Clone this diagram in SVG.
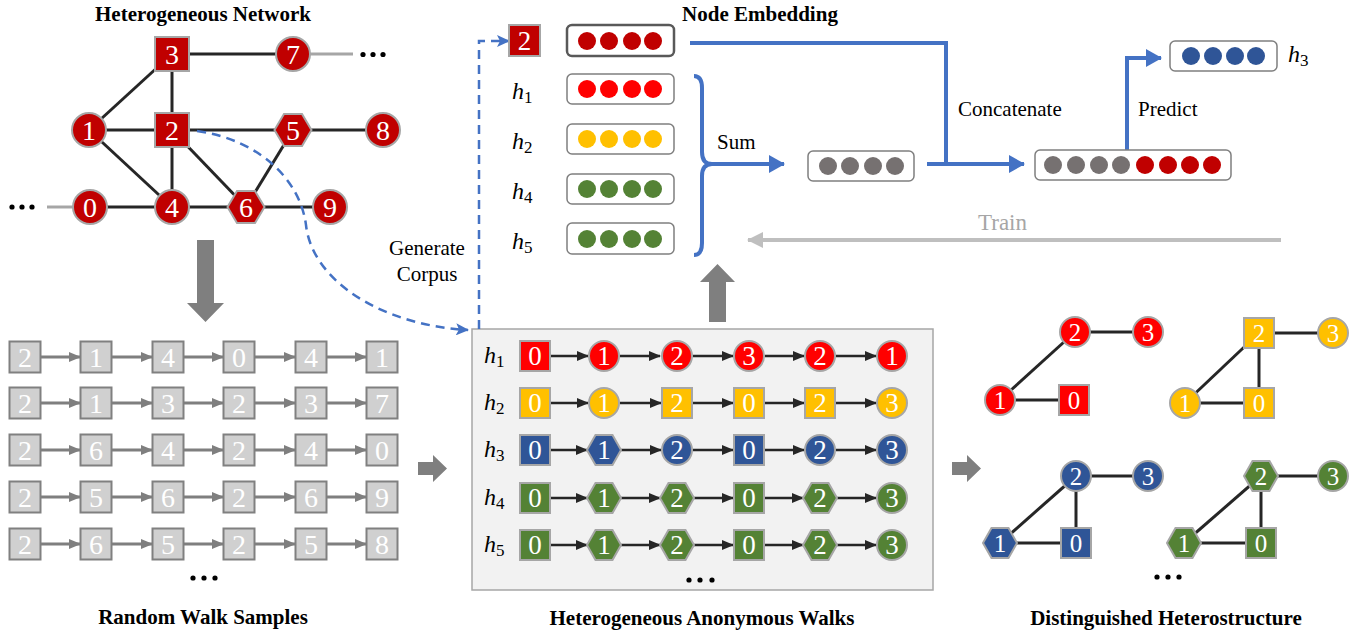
<svg xmlns="http://www.w3.org/2000/svg" xmlns:xlink="http://www.w3.org/1999/xlink" width="1368" height="635" viewBox="0 0 1368 635">
<style>
text{font-family:"Liberation Serif","Times New Roman","DejaVu Serif",serif}
.title{font-size:21px;font-weight:bold;text-anchor:middle;fill:#000}
.lab{font-size:21px;fill:#000}
.dg{fill:#fff;text-anchor:middle;dominant-baseline:central}
.d28{font-size:28px}.d27{font-size:27px}.d25{font-size:25px}
.h{font-size:24px;font-style:italic;fill:#000}
.sub{font-size:17px;font-style:normal}
.edge{stroke:#262626;stroke-width:3}
.nd{stroke:#A6A6A6;stroke-width:2}
.dr{fill:#C00000}.r{fill:#FF0000}.y{fill:#FFC000}.b{fill:#2F5597}.g{fill:#548235}.gy{fill:#767171}
.rw{fill:#D0D0D0;stroke:#808080;stroke-width:2}
.rwa{stroke:#7F7F7F;stroke-width:3;marker-end:url(#agray)}
.wa{stroke:#262626;stroke-width:2.5;marker-end:url(#ablack)}
.blue{stroke:#4472C4;stroke-width:4;fill:none}
.vec{fill:#fff;stroke:#7F7F7F;stroke-width:1.5}
.dots circle{fill:#000}
.big{fill:#7F7F7F}
</style>
<defs>
<rect id="sqL" x="-17" y="-17" width="34" height="34"/>
<circle id="ciL" r="17"/>
<polygon id="hxL" points="-18.5,0 -9,-16 9,-16 18.5,0 9,16 -9,16"/>
<rect id="sq" x="-15" y="-15" width="30" height="30"/>
<circle id="ci" r="15"/>
<polygon id="hx" points="-17,0 -8.5,-15 8.5,-15 17,0 8.5,15 -8.5,15"/>
<rect id="rb" x="-15.5" y="-15.5" width="31" height="31"/>
<marker id="ablack" markerUnits="userSpaceOnUse" markerWidth="12" markerHeight="10" refX="11" refY="5" orient="auto"><path d="M0,0 L12,5 L0,10 Z" fill="#262626"/></marker>
<marker id="agray" markerUnits="userSpaceOnUse" markerWidth="12" markerHeight="10" refX="11" refY="5" orient="auto"><path d="M0,0 L12,5 L0,10 Z" fill="#7F7F7F"/></marker>
<marker id="ablue" markerUnits="userSpaceOnUse" markerWidth="16" markerHeight="18" refX="15" refY="9" orient="auto"><path d="M0,0 L16,9 L0,18 Z" fill="#4472C4"/></marker>
<marker id="adash" markerUnits="userSpaceOnUse" markerWidth="13" markerHeight="12" refX="12" refY="6" orient="auto"><path d="M0,0 L13,6 L0,12 L3,6 Z" fill="#4472C4"/></marker>
<marker id="atrain" markerUnits="userSpaceOnUse" markerWidth="16" markerHeight="16" refX="15" refY="8" orient="auto"><path d="M0,0 L16,8 L0,16 Z" fill="#BFBFBF"/></marker>
</defs>

<rect id="panel" x="472" y="329" width="461" height="261" fill="#F2F2F2" stroke="#A6A6A6" stroke-width="1.5"/>

<g id="connectors" fill="none">
  <!-- network edges -->
  <line class="edge" x1="172" y1="54" x2="293" y2="54"/>
  <line class="edge" x1="172" y1="54" x2="89" y2="130"/>
  <line class="edge" x1="172" y1="54" x2="172" y2="130"/>
  <line class="edge" x1="89" y1="130" x2="172" y2="130"/>
  <line class="edge" x1="172" y1="130" x2="293" y2="130"/>
  <line class="edge" x1="293" y1="130" x2="383" y2="130"/>
  <line class="edge" x1="89" y1="130" x2="172" y2="207"/>
  <line class="edge" x1="172" y1="130" x2="172" y2="207"/>
  <line class="edge" x1="172" y1="130" x2="246" y2="207"/>
  <line class="edge" x1="293" y1="130" x2="246" y2="207"/>
  <line class="edge" x1="90" y1="207" x2="172" y2="207"/>
  <line class="edge" x1="172" y1="207" x2="246" y2="207"/>
  <line class="edge" x1="246" y1="207" x2="330" y2="207"/>
  <line x1="310" y1="54" x2="353" y2="54" stroke="#A6A6A6" stroke-width="3"/>
  <line x1="47" y1="207" x2="73" y2="207" stroke="#A6A6A6" stroke-width="3"/>
  <!-- generate corpus dashed -->
  <path d="M197 131 C260 140 300 180 306 225 C312 280 380 325 468 330" stroke="#4472C4" stroke-width="2.5" stroke-dasharray="9 6" marker-end="url(#adash)"/>
  <path d="M479 329 V41 H509" stroke="#4472C4" stroke-width="2.5" stroke-dasharray="9 6" marker-end="url(#adash)"/>
  <!-- big gray arrows -->
  <polygon class="big" points="197,240 214,240 214,303 224,303 205.5,322 187,303 197,303"/>
  <polygon class="big" points="709,322 726,322 726,282 735,282 717.5,264 700,282 709,282"/>
  <polygon class="big" points="418,462 433,462 433,455 447,468.5 433,482 433,475 418,475"/>
  <polygon class="big" points="952,462 967,462 967,455 981,468.5 967,482 967,475 952,475"/>
  <!-- embedding flow -->
  <path class="blue" d="M694 76 Q702 76 702 88 L702 152 Q702 164 712 164 Q702 164 702 176 L702 243 Q702 255 694 255"/>
  <line class="blue" x1="710" y1="164" x2="784" y2="164" marker-end="url(#ablue)"/>
  <path class="blue" d="M690 43 H946 V164"/>
  <line class="blue" x1="927" y1="164" x2="1024" y2="164" marker-end="url(#ablue)"/>
  <path class="blue" d="M1127 150 V58 H1161" marker-end="url(#ablue)"/>
  <line x1="1281" y1="240" x2="748" y2="240" stroke="#BFBFBF" stroke-width="4" marker-end="url(#atrain)"/>
  <!-- random walk arrows -->
  <g id="rw-arrows">
    <line class="rwa" x1="41" y1="357" x2="80" y2="357"/><line class="rwa" x1="112" y1="357" x2="152" y2="357"/><line class="rwa" x1="184" y1="357" x2="223" y2="357"/><line class="rwa" x1="255" y1="357" x2="295" y2="357"/><line class="rwa" x1="327" y1="357" x2="366" y2="357"/>
    <line class="rwa" x1="41" y1="403" x2="80" y2="403"/><line class="rwa" x1="112" y1="403" x2="152" y2="403"/><line class="rwa" x1="184" y1="403" x2="223" y2="403"/><line class="rwa" x1="255" y1="403" x2="295" y2="403"/><line class="rwa" x1="327" y1="403" x2="366" y2="403"/>
    <line class="rwa" x1="41" y1="450" x2="80" y2="450"/><line class="rwa" x1="112" y1="450" x2="152" y2="450"/><line class="rwa" x1="184" y1="450" x2="223" y2="450"/><line class="rwa" x1="255" y1="450" x2="295" y2="450"/><line class="rwa" x1="327" y1="450" x2="366" y2="450"/>
    <line class="rwa" x1="41" y1="497" x2="80" y2="497"/><line class="rwa" x1="112" y1="497" x2="152" y2="497"/><line class="rwa" x1="184" y1="497" x2="223" y2="497"/><line class="rwa" x1="255" y1="497" x2="295" y2="497"/><line class="rwa" x1="327" y1="497" x2="366" y2="497"/>
    <line class="rwa" x1="41" y1="544" x2="80" y2="544"/><line class="rwa" x1="112" y1="544" x2="152" y2="544"/><line class="rwa" x1="184" y1="544" x2="223" y2="544"/><line class="rwa" x1="255" y1="544" x2="295" y2="544"/><line class="rwa" x1="327" y1="544" x2="366" y2="544"/>
  </g>
  <!-- anonymous walk arrows -->
  <g id="aw-arrows">
    <line class="wa" x1="551" y1="356" x2="588" y2="356"/><line class="wa" x1="620" y1="356" x2="660" y2="356"/><line class="wa" x1="693" y1="356" x2="733" y2="356"/><line class="wa" x1="765" y1="356" x2="804" y2="356"/><line class="wa" x1="836" y1="356" x2="876" y2="356"/>
    <line class="wa" x1="551" y1="403" x2="588" y2="403"/><line class="wa" x1="620" y1="403" x2="661" y2="403"/><line class="wa" x1="693" y1="403" x2="733" y2="403"/><line class="wa" x1="765" y1="403" x2="804" y2="403"/><line class="wa" x1="836" y1="403" x2="876" y2="403"/>
    <line class="wa" x1="551" y1="450" x2="587" y2="450"/><line class="wa" x1="621" y1="450" x2="661" y2="450"/><line class="wa" x1="693" y1="450" x2="733" y2="450"/><line class="wa" x1="765" y1="450" x2="804" y2="450"/><line class="wa" x1="836" y1="450" x2="876" y2="450"/>
    <line class="wa" x1="551" y1="498" x2="587" y2="498"/><line class="wa" x1="621" y1="498" x2="660" y2="498"/><line class="wa" x1="694" y1="498" x2="733" y2="498"/><line class="wa" x1="765" y1="498" x2="803" y2="498"/><line class="wa" x1="837" y1="498" x2="876" y2="498"/>
    <line class="wa" x1="551" y1="545" x2="587" y2="545"/><line class="wa" x1="621" y1="545" x2="660" y2="545"/><line class="wa" x1="694" y1="545" x2="733" y2="545"/><line class="wa" x1="765" y1="545" x2="803" y2="545"/><line class="wa" x1="837" y1="545" x2="876" y2="545"/>
  </g>
  <!-- right structure edges -->
  <line class="edge" x1="1075" y1="332" x2="1148" y2="332"/>
  <line class="edge" x1="1075" y1="332" x2="1000" y2="400"/>
  <line class="edge" x1="1000" y1="400" x2="1074" y2="400"/>
  <line class="edge" x1="1259" y1="333" x2="1333" y2="333"/>
  <line class="edge" x1="1259" y1="333" x2="1185" y2="403"/>
  <line class="edge" x1="1259" y1="333" x2="1259" y2="403"/>
  <line class="edge" x1="1185" y1="403" x2="1259" y2="403"/>
  <line class="edge" x1="1076" y1="476" x2="1148" y2="476"/>
  <line class="edge" x1="1076" y1="476" x2="1000" y2="543"/>
  <line class="edge" x1="1076" y1="476" x2="1076" y2="543"/>
  <line class="edge" x1="1000" y1="543" x2="1076" y2="543"/>
  <line class="edge" x1="1261" y1="476" x2="1333" y2="476"/>
  <line class="edge" x1="1261" y1="476" x2="1184" y2="543"/>
  <line class="edge" x1="1261" y1="476" x2="1261" y2="543"/>
  <line class="edge" x1="1184" y1="543" x2="1261" y2="543"/>
</g>

<!-- titles and labels -->
<g id="labels">
  <text class="title" x="203" y="21">Heterogeneous Network</text>
  <text class="title" x="760" y="21">Node Embedding</text>
  <text class="title" x="203" y="624">Random Walk Samples</text>
  <text class="title" x="702" y="625">Heterogeneous Anonymous Walks</text>
  <text class="title" x="1166" y="625">Distinguished Heterostructure</text>
  <text class="lab" x="427" y="255" text-anchor="middle">Generate</text>
  <text class="lab" x="427" y="281" text-anchor="middle">Corpus</text>
  <text class="lab" x="717" y="149">Sum</text>
  <text class="lab" x="958" y="116">Concatenate</text>
  <text class="lab" x="1138" y="116">Predict</text>
  <text x="978" y="230" font-size="23" fill="#A6A6A6">Train</text>
  <g class="dots"><circle cx="363" cy="54.5" r="2.6"/><circle cx="373" cy="54.5" r="2.6"/><circle cx="383" cy="54.5" r="2.6"/></g>
  <g class="dots"><circle cx="12" cy="207" r="2.6"/><circle cx="22" cy="207" r="2.6"/><circle cx="32" cy="207" r="2.6"/></g>
  <g class="dots"><circle cx="193" cy="578" r="2.6"/><circle cx="204" cy="578" r="2.6"/><circle cx="215" cy="578" r="2.6"/></g>
  <g class="dots"><circle cx="689" cy="580" r="2.6"/><circle cx="700" cy="580" r="2.6"/><circle cx="712" cy="580" r="2.6"/></g>
  <g class="dots"><circle cx="1157" cy="577" r="2.6"/><circle cx="1168" cy="577" r="2.6"/><circle cx="1179" cy="577" r="2.6"/></g>
</g>

<!-- network nodes -->
<g id="net-3"><use href="#sqL" x="172" y="54" class="dr nd"/><text class="dg d28" x="172" y="54">3</text></g>
<g id="net-7"><use href="#ciL" x="293" y="54" class="dr nd"/><text class="dg d28" x="293" y="54">7</text></g>
<g id="net-1"><use href="#ciL" x="89" y="130" class="dr nd"/><text class="dg d28" x="89" y="130">1</text></g>
<g id="net-2"><use href="#sqL" x="172" y="130" class="dr nd"/><text class="dg d28" x="172" y="130">2</text></g>
<g id="net-5"><use href="#hxL" x="293" y="130" class="dr nd"/><text class="dg d28" x="293" y="130">5</text></g>
<g id="net-8"><use href="#ciL" x="383" y="130" class="dr nd"/><text class="dg d28" x="383" y="130">8</text></g>
<g id="net-0"><use href="#ciL" x="90" y="207" class="dr nd"/><text class="dg d28" x="90" y="207">0</text></g>
<g id="net-4"><use href="#ciL" x="172" y="207" class="dr nd"/><text class="dg d28" x="172" y="207">4</text></g>
<g id="net-6"><use href="#hxL" x="246" y="207" class="dr nd"/><text class="dg d28" x="246" y="207">6</text></g>
<g id="net-9"><use href="#ciL" x="330" y="207" class="dr nd"/><text class="dg d28" x="330" y="207">9</text></g>

<!-- embedding -->
<g id="emb-node2"><rect x="509" y="25" width="31" height="31" fill="#C00000" stroke="#A6A6A6" stroke-width="2"/><text class="dg d27" x="524.5" y="40.5">2</text></g>
<g id="emb-2"><rect x="567" y="25" width="107" height="31" rx="5" fill="#fff" stroke="#595959" stroke-width="2.5"/><circle class="dr" cx="587" cy="41" r="9"/><circle class="dr" cx="609" cy="41" r="9"/><circle class="dr" cx="632" cy="41" r="9"/><circle class="dr" cx="653" cy="41" r="9"/></g>
<g id="emb-h1"><text class="h" x="512" y="99">h<tspan class="sub" dy="4">1</tspan></text><rect class="vec" x="567" y="74" width="107" height="30" rx="5"/><circle class="r" cx="587" cy="89" r="9"/><circle class="r" cx="609" cy="89" r="9"/><circle class="r" cx="632" cy="89" r="9"/><circle class="r" cx="653" cy="89" r="9"/></g>
<g id="emb-h2"><text class="h" x="512" y="149">h<tspan class="sub" dy="4">2</tspan></text><rect class="vec" x="567" y="124" width="107" height="30" rx="5"/><circle class="y" cx="587" cy="139" r="9"/><circle class="y" cx="609" cy="139" r="9"/><circle class="y" cx="632" cy="139" r="9"/><circle class="y" cx="653" cy="139" r="9"/></g>
<g id="emb-h4"><text class="h" x="512" y="199">h<tspan class="sub" dy="4">4</tspan></text><rect class="vec" x="567" y="174" width="107" height="30" rx="5"/><circle class="g" cx="587" cy="189" r="9"/><circle class="g" cx="609" cy="189" r="9"/><circle class="g" cx="632" cy="189" r="9"/><circle class="g" cx="653" cy="189" r="9"/></g>
<g id="emb-h5"><text class="h" x="512" y="249">h<tspan class="sub" dy="4">5</tspan></text><rect class="vec" x="567" y="223" width="107" height="31" rx="5"/><circle class="g" cx="587" cy="239" r="9"/><circle class="g" cx="609" cy="239" r="9"/><circle class="g" cx="632" cy="239" r="9"/><circle class="g" cx="653" cy="239" r="9"/></g>
<g id="sum-vec"><rect class="vec" x="808" y="151" width="106" height="30" rx="5"/><circle class="gy" cx="828" cy="166" r="9"/><circle class="gy" cx="850" cy="166" r="9"/><circle class="gy" cx="873" cy="166" r="9"/><circle class="gy" cx="895" cy="166" r="9"/></g>
<g id="concat-vec"><rect class="vec" x="1035" y="150" width="196" height="30" rx="5"/><circle class="gy" cx="1053" cy="165" r="9"/><circle class="gy" cx="1076" cy="165" r="9"/><circle class="gy" cx="1099" cy="165" r="9"/><circle class="gy" cx="1121" cy="165" r="9"/><circle class="dr" cx="1145" cy="165" r="9"/><circle class="dr" cx="1168" cy="165" r="9"/><circle class="dr" cx="1190" cy="165" r="9"/><circle class="dr" cx="1212" cy="165" r="9"/></g>
<g id="pred-h3"><rect class="vec" x="1170" y="41" width="107" height="30" rx="5"/><circle class="b" cx="1191" cy="56" r="9"/><circle class="b" cx="1213" cy="56" r="9"/><circle class="b" cx="1235" cy="56" r="9"/><circle class="b" cx="1256" cy="56" r="9"/><text class="h" x="1288" y="62">h<tspan class="sub" dy="4">3</tspan></text></g>

<!-- random walk samples -->
<g id="rw-1"><use href="#rb" x="25" y="357" class="rw"/><text class="dg d28" x="25" y="357">2</text><use href="#rb" x="96" y="357" class="rw"/><text class="dg d28" x="96" y="357">1</text><use href="#rb" x="168" y="357" class="rw"/><text class="dg d28" x="168" y="357">4</text><use href="#rb" x="239" y="357" class="rw"/><text class="dg d28" x="239" y="357">0</text><use href="#rb" x="311" y="357" class="rw"/><text class="dg d28" x="311" y="357">4</text><use href="#rb" x="382" y="357" class="rw"/><text class="dg d28" x="382" y="357">1</text></g>
<g id="rw-2"><use href="#rb" x="25" y="403" class="rw"/><text class="dg d28" x="25" y="403">2</text><use href="#rb" x="96" y="403" class="rw"/><text class="dg d28" x="96" y="403">1</text><use href="#rb" x="168" y="403" class="rw"/><text class="dg d28" x="168" y="403">3</text><use href="#rb" x="239" y="403" class="rw"/><text class="dg d28" x="239" y="403">2</text><use href="#rb" x="311" y="403" class="rw"/><text class="dg d28" x="311" y="403">3</text><use href="#rb" x="382" y="403" class="rw"/><text class="dg d28" x="382" y="403">7</text></g>
<g id="rw-3"><use href="#rb" x="25" y="450" class="rw"/><text class="dg d28" x="25" y="450">2</text><use href="#rb" x="96" y="450" class="rw"/><text class="dg d28" x="96" y="450">6</text><use href="#rb" x="168" y="450" class="rw"/><text class="dg d28" x="168" y="450">4</text><use href="#rb" x="239" y="450" class="rw"/><text class="dg d28" x="239" y="450">2</text><use href="#rb" x="311" y="450" class="rw"/><text class="dg d28" x="311" y="450">4</text><use href="#rb" x="382" y="450" class="rw"/><text class="dg d28" x="382" y="450">0</text></g>
<g id="rw-4"><use href="#rb" x="25" y="497" class="rw"/><text class="dg d28" x="25" y="497">2</text><use href="#rb" x="96" y="497" class="rw"/><text class="dg d28" x="96" y="497">5</text><use href="#rb" x="168" y="497" class="rw"/><text class="dg d28" x="168" y="497">6</text><use href="#rb" x="239" y="497" class="rw"/><text class="dg d28" x="239" y="497">2</text><use href="#rb" x="311" y="497" class="rw"/><text class="dg d28" x="311" y="497">6</text><use href="#rb" x="382" y="497" class="rw"/><text class="dg d28" x="382" y="497">9</text></g>
<g id="rw-5"><use href="#rb" x="25" y="544" class="rw"/><text class="dg d28" x="25" y="544">2</text><use href="#rb" x="96" y="544" class="rw"/><text class="dg d28" x="96" y="544">6</text><use href="#rb" x="168" y="544" class="rw"/><text class="dg d28" x="168" y="544">5</text><use href="#rb" x="239" y="544" class="rw"/><text class="dg d28" x="239" y="544">2</text><use href="#rb" x="311" y="544" class="rw"/><text class="dg d28" x="311" y="544">5</text><use href="#rb" x="382" y="544" class="rw"/><text class="dg d28" x="382" y="544">8</text></g>

<!-- anonymous walks -->
<g id="aw-h1"><text class="h" x="484" y="363">h<tspan class="sub" dy="4">1</tspan></text>
<use href="#sq" x="535" y="356" class="r nd"/><text class="dg d27" x="535" y="356">0</text>
<use href="#ci" x="604" y="356" class="r nd"/><text class="dg d27" x="604" y="356">1</text>
<use href="#ci" x="677" y="356" class="r nd"/><text class="dg d27" x="677" y="356">2</text>
<use href="#ci" x="749" y="356" class="r nd"/><text class="dg d27" x="749" y="356">3</text>
<use href="#ci" x="820" y="356" class="r nd"/><text class="dg d27" x="820" y="356">2</text>
<use href="#ci" x="892" y="356" class="r nd"/><text class="dg d27" x="892" y="356">1</text></g>
<g id="aw-h2"><text class="h" x="484" y="410">h<tspan class="sub" dy="4">2</tspan></text>
<use href="#sq" x="535" y="403" class="y nd"/><text class="dg d27" x="535" y="403">0</text>
<use href="#ci" x="604" y="403" class="y nd"/><text class="dg d27" x="604" y="403">1</text>
<use href="#sq" x="677" y="403" class="y nd"/><text class="dg d27" x="677" y="403">2</text>
<use href="#sq" x="749" y="403" class="y nd"/><text class="dg d27" x="749" y="403">0</text>
<use href="#sq" x="820" y="403" class="y nd"/><text class="dg d27" x="820" y="403">2</text>
<use href="#ci" x="892" y="403" class="y nd"/><text class="dg d27" x="892" y="403">3</text></g>
<g id="aw-h3"><text class="h" x="484" y="457">h<tspan class="sub" dy="4">3</tspan></text>
<use href="#sq" x="535" y="450" class="b nd"/><text class="dg d27" x="535" y="450">0</text>
<use href="#hx" x="604" y="450" class="b nd"/><text class="dg d27" x="604" y="450">1</text>
<use href="#ci" x="677" y="450" class="b nd"/><text class="dg d27" x="677" y="450">2</text>
<use href="#sq" x="749" y="450" class="b nd"/><text class="dg d27" x="749" y="450">0</text>
<use href="#ci" x="820" y="450" class="b nd"/><text class="dg d27" x="820" y="450">2</text>
<use href="#ci" x="892" y="450" class="b nd"/><text class="dg d27" x="892" y="450">3</text></g>
<g id="aw-h4"><text class="h" x="484" y="505">h<tspan class="sub" dy="4">4</tspan></text>
<use href="#sq" x="535" y="498" class="g nd"/><text class="dg d27" x="535" y="498">0</text>
<use href="#hx" x="604" y="498" class="g nd"/><text class="dg d27" x="604" y="498">1</text>
<use href="#hx" x="677" y="498" class="g nd"/><text class="dg d27" x="677" y="498">2</text>
<use href="#sq" x="749" y="498" class="g nd"/><text class="dg d27" x="749" y="498">0</text>
<use href="#hx" x="820" y="498" class="g nd"/><text class="dg d27" x="820" y="498">2</text>
<use href="#ci" x="892" y="498" class="g nd"/><text class="dg d27" x="892" y="498">3</text></g>
<g id="aw-h5"><text class="h" x="484" y="552">h<tspan class="sub" dy="4">5</tspan></text>
<use href="#sq" x="535" y="545" class="g nd"/><text class="dg d27" x="535" y="545">0</text>
<use href="#hx" x="604" y="545" class="g nd"/><text class="dg d27" x="604" y="545">1</text>
<use href="#hx" x="677" y="545" class="g nd"/><text class="dg d27" x="677" y="545">2</text>
<use href="#sq" x="749" y="545" class="g nd"/><text class="dg d27" x="749" y="545">0</text>
<use href="#hx" x="820" y="545" class="g nd"/><text class="dg d27" x="820" y="545">2</text>
<use href="#ci" x="892" y="545" class="g nd"/><text class="dg d27" x="892" y="545">3</text></g>

<!-- distinguished heterostructures -->
<g id="hs-red">
<use href="#ci" x="1075" y="332" class="r nd"/><text class="dg d25" x="1075" y="332">2</text>
<use href="#ci" x="1148" y="332" class="r nd"/><text class="dg d25" x="1148" y="332">3</text>
<use href="#ci" x="1000" y="400" class="r nd"/><text class="dg d25" x="1000" y="400">1</text>
<use href="#sq" x="1074" y="400" class="r nd"/><text class="dg d25" x="1074" y="400">0</text></g>
<g id="hs-yellow">
<use href="#sq" x="1259" y="333" class="y nd"/><text class="dg d25" x="1259" y="333">2</text>
<use href="#ci" x="1333" y="333" class="y nd"/><text class="dg d25" x="1333" y="333">3</text>
<use href="#ci" x="1185" y="403" class="y nd"/><text class="dg d25" x="1185" y="403">1</text>
<use href="#sq" x="1259" y="403" class="y nd"/><text class="dg d25" x="1259" y="403">0</text></g>
<g id="hs-blue">
<use href="#ci" x="1076" y="476" class="b nd"/><text class="dg d25" x="1076" y="476">2</text>
<use href="#ci" x="1148" y="476" class="b nd"/><text class="dg d25" x="1148" y="476">3</text>
<use href="#hx" x="1000" y="543" class="b nd"/><text class="dg d25" x="1000" y="543">1</text>
<use href="#sq" x="1076" y="543" class="b nd"/><text class="dg d25" x="1076" y="543">0</text></g>
<g id="hs-green">
<use href="#hx" x="1261" y="476" class="g nd"/><text class="dg d25" x="1261" y="476">2</text>
<use href="#ci" x="1333" y="476" class="g nd"/><text class="dg d25" x="1333" y="476">3</text>
<use href="#hx" x="1184" y="543" class="g nd"/><text class="dg d25" x="1184" y="543">1</text>
<use href="#sq" x="1261" y="543" class="g nd"/><text class="dg d25" x="1261" y="543">0</text></g>
</svg>
